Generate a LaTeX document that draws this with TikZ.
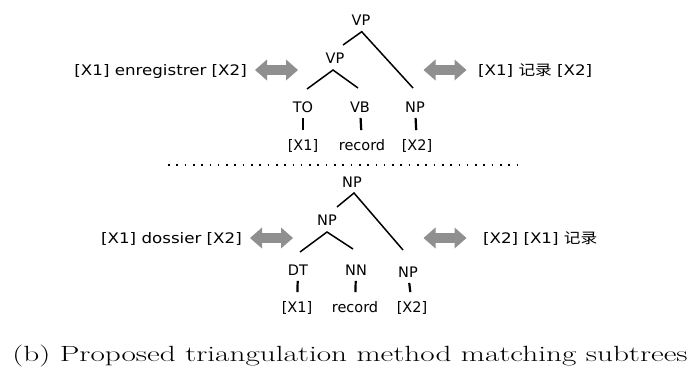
\documentclass[tikz,border=0pt]{standalone}
\usepackage{fontspec}
\newfontfamily\labelfont{DejaVu Sans}
\newfontfamily\cjk{Noto Sans CJK SC}
\definecolor{arrowgray}{HTML}{8F8F8F}
\tikzset{
  lbl/.style={font=\labelfont\fontsize{14.5}{16}\selectfont, text height=10.5pt, text depth=0pt, inner sep=0pt},
  side/.style={lbl},
  branch/.style={draw=black, line width=1.5pt},
  bar/.style={draw=black, line width=2.2pt, shorten <=5.5pt, shorten >=9.5pt},
  sep/.style={draw=black, line width=1.6pt, dash pattern=on 1.6pt off 6.7pt},
  % fat grey two-headed arrow, centred on the pic position
  swap/.pic={
    \fill[arrowgray] (-21.5,0) -- (-9.5,-10.5) -- (-9.5,-4.8) -- (9.5,-4.8)
      -- (9.5,-10.5) -- (21.5,0) -- (9.5,10.5) -- (9.5,4.8) -- (-9.5,4.8)
      -- (-9.5,10.5) -- cycle;
  }
}
\newcommand{\widetext}[1]{\scalebox{1.15}[1]{#1}}
\begin{document}
\begin{tikzpicture}[x=1pt, y=-1pt]
\useasboundingbox (0,0) rectangle (695,369);

% upper tree: to record
\node[lbl] (vpA) at (361,20) {VP};
\node[lbl] (vpB) at (335,58) {VP};
\node[lbl] (to)  at (303,107) {TO};
\node[lbl] (vb)  at (360,107) {VB};
\node[lbl] (npA) at (415,107) {NP};
\node[lbl] (xoneA) at (303,145) {[X1]};
\node[lbl] (recA) at (362,145) {record};
\node[lbl] (xtwoA) at (417,145) {[X2]};
\coordinate (vpAapex) at (361.7,31.7);
\coordinate (vpAl) at (343,45);
\coordinate (vpAr) at (413,88);
\coordinate (vpBapex) at (333,70);
\coordinate (vpBl) at (307,89);
\coordinate (vpBr) at (358,88);
\draw[branch] (vpAl) -- (vpAapex) -- (vpAr);
\draw[branch] (vpBl) -- (vpBapex) -- (vpBr);
\draw[bar] (to) -- (xoneA);
\draw[bar] (vb) -- (recA);
\draw[bar] (npA) -- (xtwoA);

\node[side, anchor=east] (frA) at (247,70) {\widetext{[X1] enregistrer [X2]}};
\pic (swapAl) at (276.5,70) {swap};
\pic (swapAr) at (445,70) {swap};
\node[side, anchor=west] (zhA) at (478,70) {\widetext{[X1] {\cjk 记录} [X2]}};

% separator
\coordinate (sepL) at (168,165);
\coordinate (sepR) at (518,165);
\draw[sep] (sepL) -- (sepR);

% lower tree: the record
\node[lbl] (npB) at (352,182) {NP};
\node[lbl] (npC) at (327,220) {NP};
\node[lbl] (dt)  at (298,270) {DT};
\node[lbl] (nn)  at (356,270) {NN};
\node[lbl] (npD) at (408,272) {NP};
\node[lbl] (xoneB) at (297,307) {[X1]};
\node[lbl] (recB) at (355,307) {record};
\node[lbl] (xtwoB) at (412,307) {[X2]};
\coordinate (npBapex) at (354,193);
\coordinate (npBl) at (337,207);
\coordinate (npBr) at (403,250);
\coordinate (npCapex) at (327,232);
\coordinate (npCl) at (300,252);
\coordinate (npCr) at (353,249);
\draw[branch] (npBl) -- (npBapex) -- (npBr);
\draw[branch] (npCl) -- (npCapex) -- (npCr);
\draw[bar] (dt) -- (xoneB);
\draw[bar] (nn) -- (recB);
\draw[bar] (npD) -- (xtwoB);

\node[side, anchor=east] (frB) at (242,238) {\widetext{[X1] dossier [X2]}};
\pic (swapBl) at (271.5,238) {swap};
\pic (swapBr) at (445,238) {swap};
\node[side, anchor=west] (zhB) at (483,238) {\widetext{[X2] [X1] {\cjk 记录}}};

% caption
\node[font=\fontsize{22}{26}\selectfont, inner sep=0pt] (cap) at (350,356)
  {\scalebox{1.42}[1]{(b) Proposed triangulation method matching subtrees}};
\end{tikzpicture}
\end{document}
